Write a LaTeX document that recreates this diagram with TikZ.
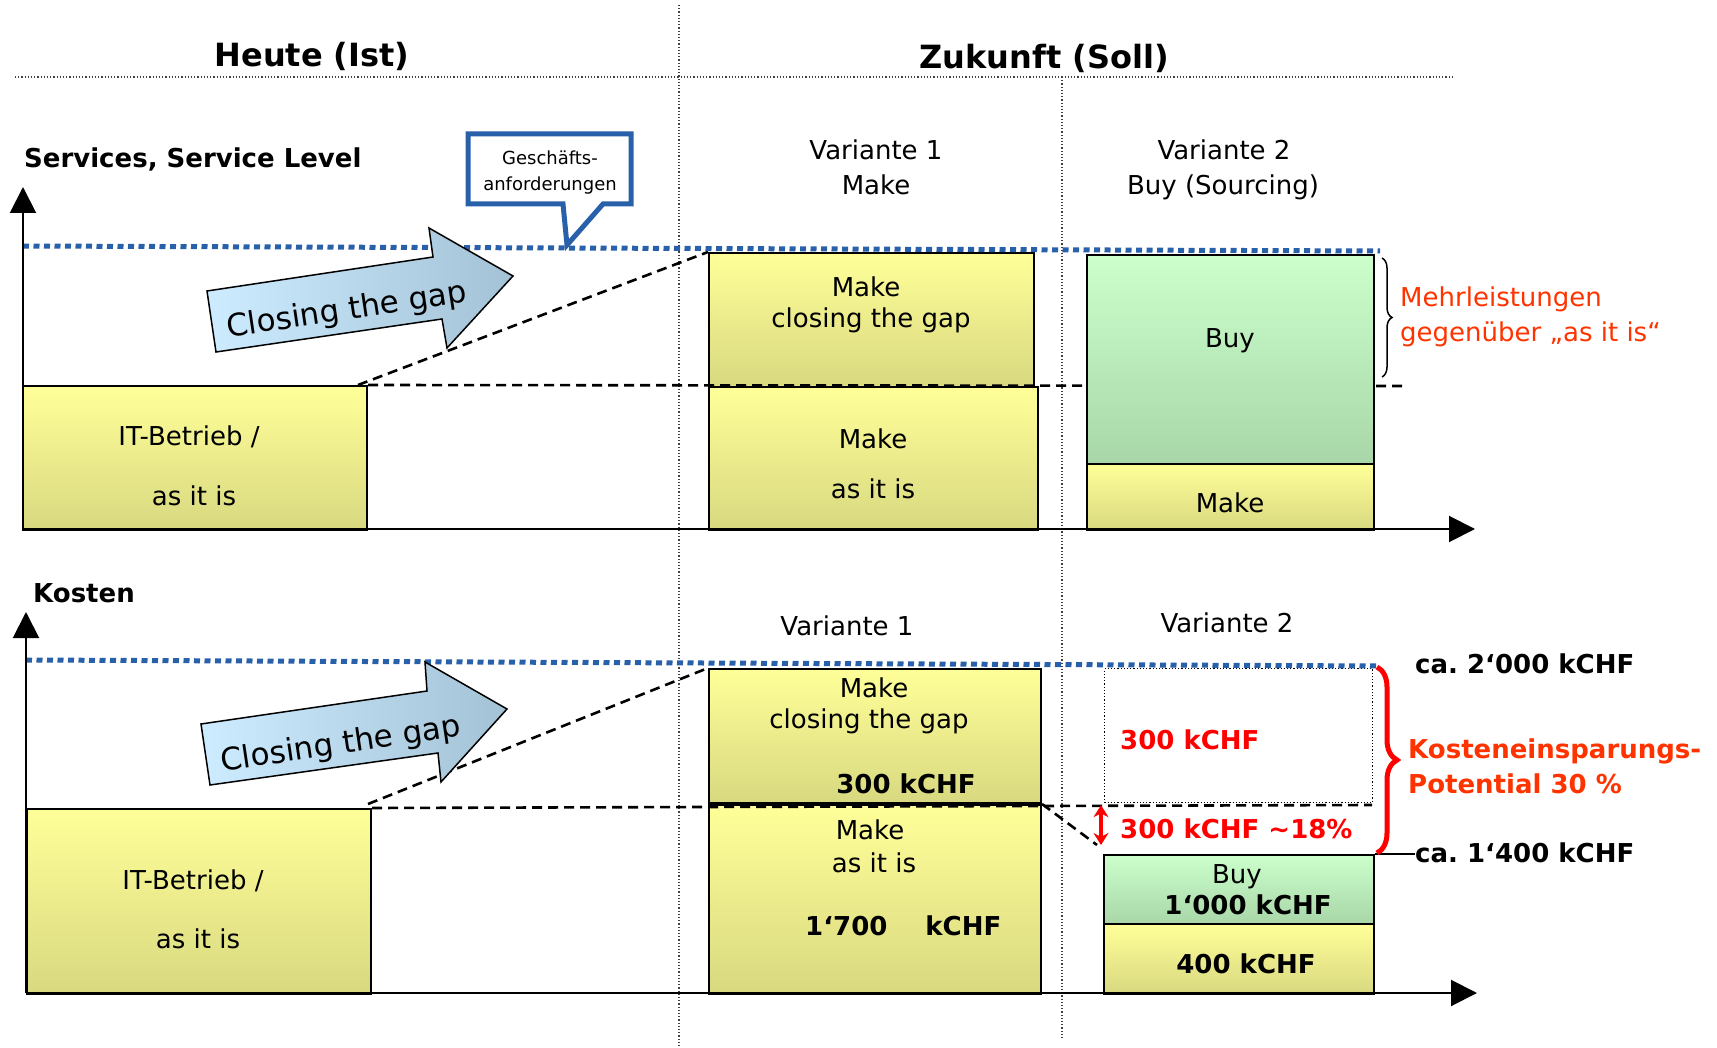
\documentclass[tikz,border=0pt]{standalone}
\usepackage{fontspec}
\setmainfont{DejaVu Sans}
\usetikzlibrary{arrows.meta,decorations.pathreplacing}
\definecolor{yTop}{RGB}{255,255,153}
\definecolor{yBot}{RGB}{216,216,128}
\definecolor{gTop}{RGB}{204,255,204}
\definecolor{gBot}{RGB}{168,214,168}
\definecolor{dblue}{RGB}{40,96,170}
\definecolor{ored}{RGB}{255,51,0}
\definecolor{aL}{RGB}{206,236,255}
\definecolor{aR}{RGB}{163,194,214}
\begin{document}
\begin{tikzpicture}[x=1pt,y=-1pt,
  t26/.style={font=\fontsize{26}{31}\selectfont, inner sep=0pt},
  b26/.style={font=\fontsize{26}{31}\selectfont\bfseries, inner sep=0pt},
  b32/.style={font=\fontsize{32}{38}\selectfont\bfseries, inner sep=0pt},
  t18/.style={font=\fontsize{18}{22}\selectfont, inner sep=0pt},
  t31/.style={font=\fontsize{31}{36}\selectfont, inner sep=0pt},
  ybox/.style={draw=black, line width=2pt, top color=yTop, bottom color=yBot, inner sep=0pt, anchor=north west},
  gbox/.style={draw=black, line width=2pt, top color=gTop, bottom color=gBot, inner sep=0pt, anchor=north west},
  axisline/.style={line width=2pt, -{Triangle[length=26pt,width=26pt]}},
  bluedot/.style={dblue, line width=5pt, dash pattern=on 6pt off 4.5pt},
  blackdash/.style={line width=2.6pt, dash pattern=on 10pt off 6pt},
  divider/.style={line width=1.2pt, black!75, dash pattern=on 1.2pt off 2pt},
  gaparrow/.style={draw=black, line width=1.5pt, left color=aL, right color=aR}
]
\useasboundingbox (0,0) rectangle (1717,1048);

% ---------- dividers ----------
\draw[divider] (15,77) -- (1454,77);
\draw[divider] (679,5) -- (679,1046);
\draw[divider] (1062,77) -- (1062,1038);

\node[b32, anchor=base] (heute) at (312,67) {Heute (Ist)};
\node[b32, anchor=base] (zukunft) at (1044,69) {Zukunft (Soll)};

% =================== TOP SECTION ===================
\node[b26, anchor=base west] (services) at (24,168) {Services, Service Level};

\node[t26, anchor=base] (v1ta) at (876,160) {Variante 1};
\node[t26, anchor=base] (v1tb) at (876,195) {Make};
\node[t26, anchor=base] (v2ta) at (1224,160) {Variante 2};
\node[t26, anchor=base] (v2tb) at (1223,195) {Buy (Sourcing)};

% boxes
\node[ybox, minimum width=344pt, minimum height=144pt] (itA) at (22,385) {};
\node[ybox, minimum width=325pt, minimum height=134pt] (v1A) at (708,252) {};
\node[ybox, minimum width=329pt, minimum height=143pt] (v1B) at (708,386) {};
\coordinate (dashendA) at (1405,386);
\draw[blackdash] (itA.north east) -- (dashendA);
\node[gbox, minimum width=287pt, minimum height=209pt] (v2A) at (1086,254) {};
\node[ybox, minimum width=287pt, minimum height=66pt] (v2B) at (1086,463) {};
\coordinate (slantA) at (358,385);
\draw[blackdash] (slantA) -- (v1A.north west);

% blue target line
\coordinate (blA) at (23,246);
\coordinate (brA) at (1380,251);
\draw[bluedot] (blA) -- (brA);

% axes
\coordinate (oA) at (23,529);
\coordinate (yA) at (23,187);
\coordinate (xA) at (1475,529);
\draw[axisline] (oA) -- (yA);
\draw[axisline] (oA) -- (xA);

% closing the gap arrow (top)
\draw[gaparrow] (207,291) -- (433,257) -- (429,228) -- (513,276) -- (447,348) -- (442,319) -- (216,352) -- cycle;
\node[t31, rotate=8.5] (cgA) at (347,311) {Closing the gap};

% callout
\draw[dblue, line width=5pt, fill=white, line join=miter] (468,134) -- (631,134) -- (631,204) -- (603,204) -- (567,245) -- (563,204) -- (468,204) -- cycle;
\node[t18, anchor=base] (callA) at (550,165) {Geschäfts-};
\node[t18, anchor=base] (callB) at (550,191) {anforderungen};

% box texts
\node[t26, anchor=base] (itA1) at (189,446) {IT-Betrieb /};
\node[t26, anchor=base] (itA2) at (194,505) {as it is};
\node[t26, anchor=base] (v1A1) at (866,297) {Make};
\node[t26, anchor=base] (v1A2) at (871,328) {closing the gap};
\node[t26, anchor=base] (v1B1) at (873,449) {Make};
\node[t26, anchor=base] (v1B2) at (873,498) {as it is};
\node[t26, anchor=base] (v2A1) at (1230,348) {Buy};
\node[t26, anchor=base] (v2B1) at (1230,512) {Make};

% brace + Mehrleistungen
\draw[line width=1.5pt, decorate, decoration={brace, amplitude=10pt}] (1382,258) -- (1382,377);
\node[t26, anchor=base west, text=ored] (mehr1) at (1400,307) {Mehrleistungen};
\node[t26, anchor=base west, text=ored] (mehr2) at (1400,342) {gegenüber „as it is“};

% =================== BOTTOM SECTION ===================
\node[b26, anchor=base west] (kosten) at (33,602) {Kosten};
\node[t26, anchor=base] (v1tc) at (847,635) {Variante 1};
\node[t26, anchor=base] (v2tc) at (1227,632) {Variante 2};

\node[ybox, minimum width=344pt, minimum height=185pt] (itB) at (26,808) {};
\node[ybox, minimum width=332pt, minimum height=134pt] (v1C) at (708,668) {};
\node[ybox, minimum width=332pt, minimum height=189pt] (v1D) at (708,804) {};
\node[draw, line width=1.2pt, dash pattern=on 1.2pt off 2pt, inner sep=0pt, anchor=north west, minimum width=268pt, minimum height=134pt] (dotbox) at (1104,668) {};
\node[gbox, minimum width=270pt, minimum height=69pt] (v2C) at (1103,854) {};
\node[ybox, minimum width=270pt, minimum height=70pt] (v2D) at (1103,923) {};

% dashed lines
\coordinate (dashendB) at (1372,805);
\coordinate (diagend) at (1097,845);
\coordinate (slantB) at (368,804);
\draw[blackdash] (itB.north east) -- (dashendB);
\draw[blackdash] (slantB) -- (v1C.north west);
\draw[blackdash] (v1D.north east) -- (diagend);

% blue line
\coordinate (blB) at (26,660);
\coordinate (brB) at (1380,666);
\draw[bluedot] (blB) -- (brB);

% axes
\coordinate (oB) at (26,993);
\coordinate (yB) at (26,612);
\coordinate (xB) at (1477,993);
\draw[axisline] (oB) -- (yB);
\draw[axisline] (oB) -- (xB);

% closing the gap arrow (bottom)
\draw[gaparrow] (201,724) -- (427,691) -- (425,662) -- (507,709) -- (441,782) -- (438,753) -- (210,785) -- cycle;
\node[t31, rotate=8.5] (cgB) at (341,745) {Closing the gap};

% box texts
\node[t26, anchor=base] (itB1) at (193,889) {IT-Betrieb /};
\node[t26, anchor=base] (itB2) at (198,948) {as it is};
\node[t26, anchor=base] (v1C1) at (874,697) {Make};
\node[t26, anchor=base] (v1C2) at (869,728) {closing the gap};
\node[b26, anchor=base] (v1C3) at (906,793) {300 kCHF};
\node[t26, anchor=base] (v1D1) at (870,839) {Make};
\node[t26, anchor=base] (v1D2) at (874,872) {as it is};
\node[b26, anchor=base west] (v1D3) at (805,935) {1‘700\hspace{38pt}kCHF};

\node[b26, anchor=base west, text=red] (sav1) at (1120,749) {300 kCHF};
\node[b26, anchor=base west, text=red] (sav2) at (1120,838) {300 kCHF \textasciitilde18\%};
\draw[red, line width=4pt, {Stealth[length=12pt,width=15pt]}-{Stealth[length=12pt,width=15pt]}] (dotbox.south west) ++(-3,2) coordinate (dbl1) -- (1101,845) coordinate (dbl2);

\node[t26, anchor=base] (v2C1) at (1237,883) {Buy};
\node[b26, anchor=base] (v2C2) at (1248,914) {1‘000 kCHF};
\node[b26, anchor=base] (v2D1) at (1246,973) {400 kCHF};

% right labels
\node[b26, anchor=base west] (ca2000) at (1415,673) {ca.\ 2‘000 kCHF};
\node[b26, anchor=base west] (ca1400) at (1415,862) {ca.\ 1‘400 kCHF};
\draw[line width=1.5pt] (v2C.north east) -- (ca1400.west |- v2C.north east);
\draw[red, line width=5pt, decorate, decoration={brace, amplitude=20pt}] (1377,667) -- (1377,853);
\node[b26, anchor=base west, text=ored] (kost1) at (1408,758) {Kosteneinsparungs-};
\node[b26, anchor=base west, text=ored] (kost2) at (1408,793) {Potential 30 \%};
\end{tikzpicture}
\end{document}
